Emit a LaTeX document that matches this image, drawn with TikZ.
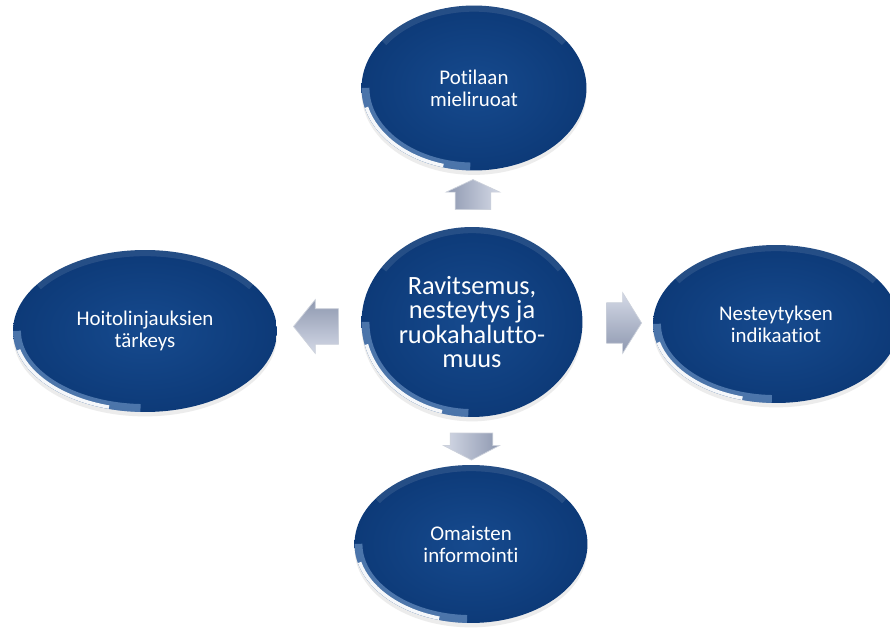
\documentclass[tikz,border=0pt]{standalone}
\usepackage{fontspec}
\setmainfont{Carlito}[Ligatures=NoCommon]
\usetikzlibrary{shapes.geometric,shapes.arrows,shadows,calc}
\definecolor{bubbleIn}{RGB}{22,74,142}
\definecolor{bubbleOut}{RGB}{13,58,120}
\definecolor{rimBlue}{RGB}{170,205,245}
\definecolor{arrowTop}{RGB}{212,217,230}
\definecolor{arrowBot}{RGB}{142,152,176}
\tikzset{bubble/.style={ellipse,inner sep=0pt,inner color=bubbleIn,outer color=bubbleOut,
   text=white,align=center,font=\fontsize{11.9}{12.5}\selectfont,
   drop shadow={shadow xshift=0pt,shadow yshift=-2.5pt,opacity=.15}},
 hub/.style={bubble,font=\fontsize{15}{14}\selectfont},
 glow/.style={rimBlue,opacity=.4,line width=9pt},
 rim/.style={white,opacity=.95,line width=4pt},
 sheen/.style={white,opacity=.1,line width=7pt},
 blockarrow/.style={single arrow,inner xsep=0pt,single arrow head indent=0pt,
   top color=arrowTop,bottom color=arrowBot,rotate=#1,shading angle=-#1,
   draw=white!55!arrowBot,line width=.4pt}}

\begin{document}
\begin{tikzpicture}[x=0.02cm,y=-0.02cm]
\useasboundingbox[fill=white] (0,0) rectangle (890,628);
\node[hub,minimum width=4.42cm,minimum height=3.8cm] (ravitsemus) at (472,322) {Ravitsemus,\\nesteytys ja\\ruokahalutto-\\muus};
\node[bubble,minimum width=4.5cm,minimum height=3.3cm] (potilaan) at (474,88) {Potilaan\\mieliruoat};
\node[bubble,minimum width=5.28cm,minimum height=3.24cm] (hoito) at (145,331) {Hoitolinjauksien\\tärkeys};
\node[bubble,minimum width=4.92cm,minimum height=3.16cm] (neste) at (776,324) {Nesteytyksen\\indikaatiot};
\node[bubble,minimum width=4.66cm,minimum height=3.16cm] (omaiset) at (471,544) {Omaisten\\informointi};
\foreach \n/\a/\b in {ravitsemus/2.21/1.9,potilaan/2.25/1.65,hoito/2.64/1.62,neste/2.46/1.58,omaiset/2.33/1.58}{
  \begin{scope}
  \clip (\n.center) ellipse[x radius=\a cm,y radius=\b cm];
  \draw[sheen] (\n.center) ++(35:\a cm and \b cm) arc[start angle=35,end angle=145,x radius=\a cm,y radius=\b cm];
  \draw[glow] (\n.center) ++(180:\a cm and \b cm) arc[start angle=180,end angle=268,x radius=\a cm,y radius=\b cm];
  \draw[rim] (\n.center) ++(194:\a cm and \b cm) arc[start angle=194,end angle=254,x radius=\a cm,y radius=\b cm];
  \end{scope}
}
\node[blockarrow=90,inner ysep=0.35cm,minimum height=0.6cm,
  single arrow head extend=0.18cm,single arrow tip angle=130] (upArr) at ($(ravitsemus.north)!.5!(potilaan.south)$) {};
\node[blockarrow=-90,inner ysep=0.42cm,minimum height=0.54cm,
  single arrow head extend=0.13cm,single arrow tip angle=125] (downArr) at ($(ravitsemus.south)!.5!(omaiset.north)$) {};
\node[blockarrow=180,inner ysep=0.35cm,minimum height=0.9cm,
  single arrow head extend=0.18cm,single arrow tip angle=102] (leftArr) at ($(ravitsemus.west)!.5!(hoito.east)+(4,0)$) {};
\node[blockarrow=0,inner ysep=0.4cm,minimum height=0.7cm,
  single arrow head extend=0.2cm,single arrow tip angle=116] (rightArr) at ($(ravitsemus.east)!.5!(neste.west)$) {};
\end{tikzpicture}
\end{document}
